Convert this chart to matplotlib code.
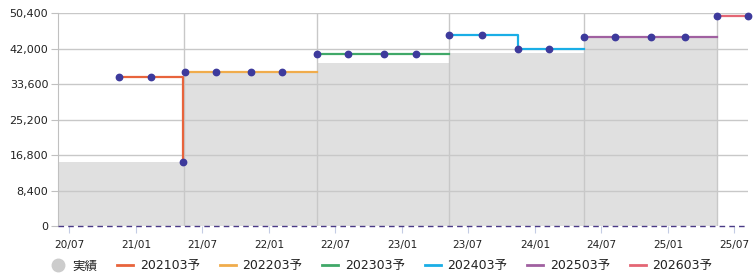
import matplotlib
matplotlib.use("Agg")
import matplotlib.pyplot as plt
import matplotlib.dates as mdates
from matplotlib.lines import Line2D
import numpy as np
import pandas as pd

plt.rcParams['font.family'] = ['DejaVu Sans', 'Noto Sans CJK JP']

# ---- data ----
actual_dates = ["2020-06-01", "2021-05-12", "2022-05-13", "2023-05-10", "2024-05-15", "2025-05-15"]
actual_values = [15300, 36500, 38700, 40900, 44600]

series_names = ["202103予", "202203予", "202303予", "202403予", "202503予", "202603予"]
series_dates = [
    ["2020-11-15", "2021-02-11", "2021-05-10"],
    ["2021-05-15", "2021-08-09", "2021-11-13", "2022-02-06"],
    ["2022-05-13", "2022-08-05", "2022-11-13", "2023-02-09"],
    ["2023-05-10", "2023-08-08", "2023-11-15", "2024-02-08"],
    ["2024-05-15", "2024-08-07", "2024-11-14", "2025-02-16"],
    ["2025-05-15", "2025-08-08"],
]
series_values = [
    [35400, 35400, 15200],
    [36500, 36500, 36500, 36500],
    [40800, 40800, 40800, 40800],
    [45300, 45300, 42000, 42000],
    [44800, 44800, 44800, 44800],
    [49800, 49800],
]
series_end = ["2021-05-12", "2022-05-13", "2023-05-10", "2024-05-15", "2025-05-15", "2025-08-08"]
series_colors = ["#e8643c", "#f0ac4c", "#40a868", "#1aaee6", "#a060a0", "#e46674"]

y_ticks = [0, 8400, 16800, 25200, 33600, 42000, 50400]
x_ticks = pd.date_range("2020-07-01", "2025-07-01", freq="6MS")

# ---- figure ----
fig = plt.figure(figsize=(7.53, 2.80), dpi=100)
ax = fig.add_axes([0.077, 0.192, 0.9164, 0.7605])

ad = pd.to_datetime(actual_dates)
av = actual_values + [actual_values[-1]]
ax.fill_between(ad, av, 0, step="post", color="#e0e0e0", lw=0, zorder=1)

# grid
for yv in y_ticks[1:]:
    ax.axhline(yv, color="#c8c8c8", lw=1, zorder=2)
for d in ad[1:]:
    ax.axvline(d, color="#c8c8c8", lw=1, zorder=2)
ax.axhline(0, color="#4a3a86", lw=1, ls=(0, (4, 3)), zorder=6, clip_on=False)

marker_color = "#3d3a9c"
for name, ds, vs, end, c in zip(series_names, series_dates, series_values, series_end, series_colors):
    d = pd.to_datetime(ds)
    xs = list(d) + [pd.Timestamp(end)]
    ys = list(vs) + [vs[-1]]
    ax.plot(xs, ys, drawstyle="steps-post", color=c, lw=1.6, zorder=4)
    ax.plot(d, vs, ls="none", marker="o", ms=4.6, color=marker_color, zorder=5, clip_on=False)

ax.set_xlim(ad[0], pd.Timestamp(series_dates[-1][-1]))
ax.set_ylim(0, y_ticks[-1])
ax.set_yticks(y_ticks)
ax.set_yticklabels([f"{v:,}" for v in y_ticks])
ax.set_xticks(x_ticks)
ax.xaxis.set_major_formatter(mdates.DateFormatter("%y/%m"))

for s in ["top", "right", "bottom"]:
    ax.spines[s].set_visible(False)
ax.spines["left"].set_color("#c0c0c0")
ax.tick_params(axis="y", length=5, color="#c0c0c0", labelsize=8, labelcolor="#222222", pad=2)
ax.tick_params(axis="x", length=5, color="#c4cce4", labelsize=7.6, labelcolor="#222222", pad=5)

handles = [Line2D([], [], ls="none", marker="o", ms=9, color="#cccccc")]
for c in series_colors:
    handles.append(Line2D([], [], color=c, lw=2))
labels = ["実績"] + series_names
fig.legend(handles, labels, loc="center", bbox_to_anchor=(0.506, 0.05), ncol=7, frameon=False,
           fontsize=9, handlelength=1.3, handletextpad=0.5, columnspacing=1.6, labelcolor="#222222")

fig.savefig("out.png", dpi=100)
